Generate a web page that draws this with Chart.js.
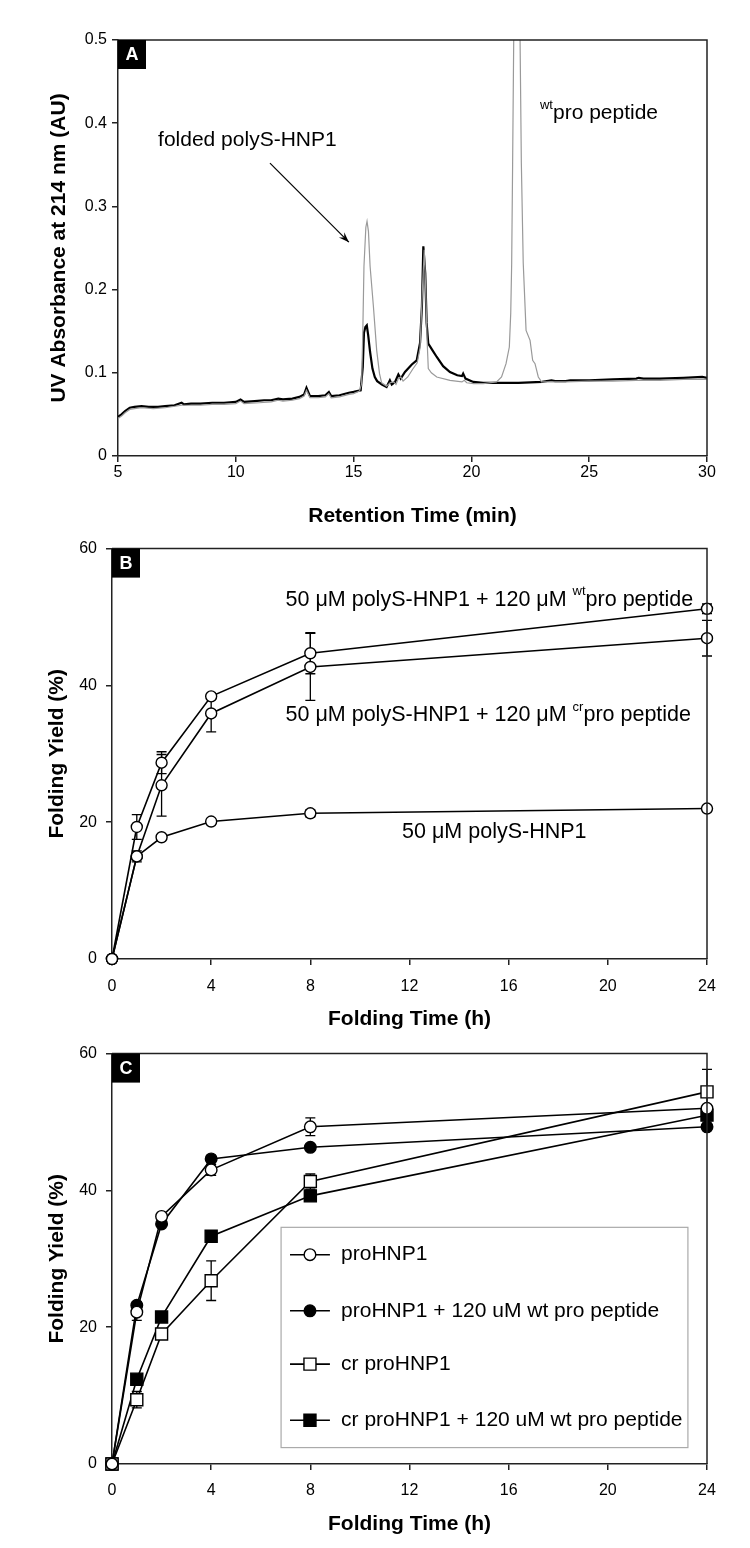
<!DOCTYPE html>
<html><head><meta charset="utf-8">
<script src="https://cdn.jsdelivr.net/npm/chart.js@4.4.1/dist/chart.umd.min.js"></script>
<style>
html,body{margin:0;padding:0;background:#fff;}
body{width:750px;height:1548px;position:relative;overflow:hidden;}
.panel{position:absolute;left:0;width:750px;}
#pa{top:0;height:530px}
#pb{top:530px;height:505px}
#pc{top:1035px;height:513px}
</style></head><body>
<div class="panel" id="pa"><canvas id="ca"></canvas></div>
<div class="panel" id="pb"><canvas id="cb"></canvas></div>
<div class="panel" id="pc"><canvas id="cc"></canvas></div>
<script>
// ---------- Panel A: chromatograms ----------
const timeBlackA = [5.0,5.15,5.3,5.5,5.7,6.0,6.3,6.7,7.0,7.4,7.7,7.8,8.1,8.5,9.0,9.5,10.0,10.2,10.35,10.8,11.2,11.5,11.8,12.0,12.4,12.7,12.9,13.0,13.15,13.5,13.8,13.95,14.05,14.4,14.8,15.0,15.3,15.39,15.44,15.5,15.56,15.62,15.7,15.8,15.9,16.0,16.2,16.4,16.54,16.62,16.76,16.9,17.0,17.18,17.47,17.68,17.82,17.9,17.96,18.04,18.1,18.17,18.35,18.53,18.8,19.09,19.4,19.6,19.65,19.75,20.08,20.5,21.0,22.0,23.0,23.4,23.55,24.0,24.2,25.0,26.0,27.0,27.1,27.3,28.0,29.0,29.8,30.0];
const absBlackA  = [0.047,0.050,0.054,0.058,0.059,0.060,0.059,0.059,0.060,0.061,0.064,0.062,0.063,0.063,0.064,0.064,0.065,0.068,0.065,0.066,0.067,0.067,0.069,0.068,0.069,0.071,0.074,0.082,0.072,0.072,0.073,0.077,0.072,0.073,0.076,0.077,0.079,0.107,0.148,0.155,0.157,0.145,0.125,0.105,0.095,0.090,0.086,0.083,0.091,0.086,0.089,0.098,0.093,0.101,0.110,0.115,0.136,0.180,0.252,0.220,0.160,0.135,0.127,0.119,0.108,0.101,0.097,0.096,0.099,0.093,0.089,0.088,0.088,0.088,0.089,0.091,0.090,0.090,0.091,0.091,0.092,0.093,0.094,0.093,0.093,0.094,0.095,0.094];
const timeGrayA = [5.0,5.15,5.3,5.5,5.7,6.0,6.5,7.0,7.7,8.1,8.5,9.0,9.5,10.0,10.2,10.35,11.0,11.5,11.8,12.0,12.4,12.7,12.9,13.0,13.15,13.5,13.8,13.95,14.05,14.4,14.8,15.0,15.25,15.34,15.39,15.44,15.52,15.57,15.63,15.7,15.84,15.98,16.1,16.19,16.4,16.55,16.7,16.8,16.9,17.0,17.1,17.3,17.5,17.7,17.82,17.92,18.0,18.06,18.12,18.17,18.3,18.53,19.09,19.6,19.7,19.8,20.1,20.5,21.07,21.28,21.47,21.61,21.67,21.71,21.75,21.92,22.12,22.2,22.32,22.49,22.6,22.7,22.84,22.98,23.4,24.0,25.0,26.0,27.0,28.0,29.0,30.0];
const absGrayA  = [0.045,0.048,0.052,0.056,0.057,0.058,0.057,0.058,0.061,0.061,0.061,0.062,0.062,0.063,0.066,0.063,0.064,0.065,0.067,0.066,0.067,0.069,0.072,0.079,0.070,0.070,0.071,0.075,0.070,0.071,0.074,0.075,0.078,0.087,0.148,0.228,0.275,0.282,0.270,0.228,0.180,0.127,0.099,0.088,0.084,0.088,0.089,0.086,0.093,0.095,0.090,0.095,0.104,0.112,0.130,0.200,0.248,0.200,0.139,0.105,0.100,0.095,0.091,0.089,0.091,0.088,0.087,0.087,0.089,0.095,0.111,0.131,0.172,0.232,0.352,0.900,0.352,0.232,0.151,0.139,0.115,0.111,0.095,0.089,0.089,0.089,0.090,0.090,0.091,0.091,0.092,0.092];

// ---------- Panel B: folding yield ----------
const timeB = [0,1,2,4,8,24];
const yieldWtB   = [0,19.3,28.7,38.4,44.7,51.2];
const errWtB     = [0,1.8,1.6,0.4,3.0,0.7];
const yieldCrB   = [0,15.0,25.4,35.9,42.7,46.9];
const errCrB     = [0,0.8,4.5,2.7,4.9,2.6];
const yieldPolyB = [0,15.0,17.8,20.1,21.3,22.0];
const errPolyB   = [0,0.4,0.3,0.3,0.5,0.3];

// ---------- Panel C: folding yield ----------
const timeC = [0,1,2,4,8,24];
const yieldProC   = [0,22.2,36.2,43.0,49.3,52.0];
const errProC     = [0,1.2,0.4,0.8,1.3,0.5];
const yieldProWtC = [0,23.2,35.1,44.6,46.3,49.3];
const errProWtC   = [0,0.5,0.3,0.3,0.4,0.3];
const yieldCrC    = [0,9.4,19.0,26.8,41.3,54.4];
const errCrC      = [0,1.2,0.5,2.9,1.1,3.3];
const yieldCrWtC  = [0,12.4,21.5,33.3,39.2,51.0];
const errCrWtC    = [0,0.5,0.5,0.4,0.5,0.8];
const legendC = ['proHNP1','proHNP1 + 120 uM wt pro peptide','cr proHNP1','cr proHNP1 + 120 uM wt pro peptide'];

const FONT = '"Liberation Sans", Arial, Helvetica, sans-serif';
Chart.defaults.font.family = FONT;
Chart.defaults.color = '#000';

const pts = (xs, ys) => xs.map((x, i) => ({x, y: ys[i]}));

function frameLabel(letter) {
  return {
    id: 'frame' + letter,
    afterDraw(chart) {
      const {ctx, chartArea: a} = chart;
      ctx.save();
      ctx.strokeStyle = '#222'; ctx.lineWidth = 1.5;
      ctx.beginPath(); ctx.moveTo(a.left, a.top); ctx.lineTo(a.right, a.top); ctx.lineTo(a.right, a.bottom); ctx.stroke();
      ctx.fillStyle = '#000'; ctx.fillRect(a.left, a.top, 28, 29);
      ctx.fillStyle = '#fff'; ctx.font = 'bold 18px ' + FONT;
      ctx.textAlign = 'center'; ctx.textBaseline = 'middle';
      ctx.fillText(letter, a.left + 14, a.top + 15);
      ctx.restore();
    }
  };
}

const errorBars = {
  id: 'errorBars',
  beforeDatasetsDraw(chart) {
    const {ctx} = chart;
    const ys = chart.scales.y;
    ctx.save();
    ctx.strokeStyle = '#000'; ctx.lineWidth = 1.3;
    chart.data.datasets.forEach((ds, i) => {
      if (!ds.errors) return;
      const meta = chart.getDatasetMeta(i);
      meta.data.forEach((p, j) => {
        const e = ds.errors[j]; if (!e) return;
        const v = ds.data[j].y;
        const y1 = ys.getPixelForValue(v + e), y2 = ys.getPixelForValue(v - e);
        ctx.beginPath();
        ctx.moveTo(p.x, y1); ctx.lineTo(p.x, y2);
        ctx.moveTo(p.x - 5, y1); ctx.lineTo(p.x + 5, y1);
        ctx.moveTo(p.x - 5, y2); ctx.lineTo(p.x + 5, y2);
        ctx.stroke();
      });
    });
    ctx.restore();
  }
};

function drawParts(ctx, x, y, parts, size) {
  let cx = x;
  parts.forEach(p => {
    if (p.sup) {
      ctx.font = Math.round(size * 0.6) + 'px ' + FONT;
      ctx.fillText(p.t, cx, y - size * 0.38);
    } else {
      ctx.font = size + 'px ' + FONT;
      ctx.fillText(p.t, cx, y);
    }
    cx += ctx.measureText(p.t).width;
  });
}

function axes(o) {
  return {
    x: {
      type: 'linear', min: o.xmin, max: o.xmax,
      ticks: {stepSize: o.xstep, font: {size: 16}, padding: o.xpad, color: '#000'},
      grid: {display: true, drawOnChartArea: false, drawTicks: true, tickLength: 6, color: '#222', lineWidth: 1.5},
      border: {display: true, color: '#222', width: 1.5},
      title: {display: true, text: o.xtitle, font: {size: 21, weight: 'bold'}, color: '#000', padding: {top: 0, bottom: o.xtpad}},
      afterFit: s => { s.height = o.xh; }
    },
    y: {
      type: 'linear', min: o.ymin, max: o.ymax,
      ticks: {stepSize: o.ystep, font: {size: 16}, padding: o.ypad, color: '#000'},
      grid: {display: true, drawOnChartArea: false, drawTicks: true, tickLength: 6, color: '#222', lineWidth: 1.5},
      border: {display: true, color: '#222', width: 1.5},
      title: {display: true, text: o.ytitle, font: {size: 21, weight: 'bold'}, color: '#000', padding: {top: o.ytpad, bottom: 0}},
      afterFit: s => { s.width = o.yw; }
    }
  };
}

const baseOpts = {
  responsive: true, maintainAspectRatio: false, animation: false, devicePixelRatio: 1,
  plugins: {legend: {display: false}, tooltip: {enabled: false}},
  elements: {line: {tension: 0}}
};

// ---------- Chart A ----------
const annotA = {
  id: 'annotA',
  afterDraw(chart) {
    const {ctx, scales: {x, y}} = chart;
    ctx.save();
    ctx.fillStyle = '#000'; ctx.textBaseline = 'middle'; ctx.textAlign = 'left';
    ctx.font = '21px ' + FONT;
    ctx.fillText('folded polyS-HNP1', x.getPixelForValue(6.7), y.getPixelForValue(0.38));
    drawParts(ctx, x.getPixelForValue(22.91), y.getPixelForValue(0.412), [{t: 'wt', sup: true}, {t: 'pro peptide'}], 21);
    const x1 = x.getPixelForValue(11.45), y1 = y.getPixelForValue(0.352);
    const x2 = x.getPixelForValue(14.8), y2 = y.getPixelForValue(0.257);
    ctx.strokeStyle = '#000'; ctx.lineWidth = 1.2;
    ctx.beginPath(); ctx.moveTo(x1, y1); ctx.lineTo(x2, y2); ctx.stroke();
    const ang = Math.atan2(y2 - y1, x2 - x1), L = 11;
    ctx.beginPath();
    ctx.moveTo(x2, y2);
    ctx.lineTo(x2 - L * Math.cos(ang - 0.35), y2 - L * Math.sin(ang - 0.35));
    ctx.lineTo(x2 - L * 0.6 * Math.cos(ang), y2 - L * 0.6 * Math.sin(ang));
    ctx.lineTo(x2 - L * Math.cos(ang + 0.35), y2 - L * Math.sin(ang + 0.35));
    ctx.closePath(); ctx.fill();
    ctx.restore();
  }
};

new Chart(document.getElementById('ca'), {
  type: 'line',
  data: {datasets: [
    {data: pts(timeGrayA, absGrayA), borderColor: '#9a9a9a', borderWidth: 1.2, pointRadius: 0},
    {data: pts(timeBlackA, absBlackA), borderColor: '#000', borderWidth: 2.2, pointRadius: 0}
  ]},
  options: Object.assign({}, baseOpts, {
    layout: {padding: {top: 40, right: 43, left: 0, bottom: 0}},
    scales: axes({xmin: 5, xmax: 30, xstep: 5, xpad: 1, xtitle: 'Retention Time (min)', xtpad: 1, xh: 74,
                  ymin: 0, ymax: 0.5, ystep: 0.1, ypad: 5, ytitle: 'UV Absorbance at 214 nm (AU)', ytpad: 47, yw: 118})
  }),
  plugins: [annotA, frameLabel('A')]
});

// ---------- Chart B ----------
const annotB = {
  id: 'annotB',
  afterDraw(chart) {
    const {ctx, scales: {x, y}} = chart;
    ctx.save();
    ctx.fillStyle = '#000'; ctx.textBaseline = 'middle'; ctx.textAlign = 'left';
    drawParts(ctx, x.getPixelForValue(7.0), y.getPixelForValue(52.5), [{t: '50 \u03bcM polyS-HNP1 + 120 \u03bcM '}, {t: 'wt', sup: true}, {t: 'pro peptide'}], 21.5);
    drawParts(ctx, x.getPixelForValue(7.0), y.getPixelForValue(35.6), [{t: '50 \u03bcM polyS-HNP1 + 120 \u03bcM '}, {t: 'cr', sup: true}, {t: 'pro peptide'}], 21.5);
    drawParts(ctx, x.getPixelForValue(11.7), y.getPixelForValue(18.6), [{t: '50 \u03bcM polyS-HNP1'}], 21.5);
    ctx.restore();
  }
};
const openCircle = {borderColor: '#000', borderWidth: 1.6, pointStyle: 'circle', pointRadius: 5.5, pointBackgroundColor: '#fff', pointBorderColor: '#000', pointBorderWidth: 1.4, clip: false};

new Chart(document.getElementById('cb'), {
  type: 'line',
  data: {datasets: [
    Object.assign({data: pts(timeB, yieldPolyB), errors: errPolyB}, openCircle),
    Object.assign({data: pts(timeB, yieldCrB), errors: errCrB}, openCircle),
    Object.assign({data: pts(timeB, yieldWtB), errors: errWtB}, openCircle)
  ]},
  options: Object.assign({}, baseOpts, {
    layout: {padding: {top: 13, right: 43, left: 0, bottom: 0}},
    scales: axes({xmin: 0, xmax: 24, xstep: 4, xpad: 12, xtitle: 'Folding Time (h)', xtpad: 3, xh: 76,
                  ymin: 0, ymax: 60, ystep: 20, ypad: 9, ytitle: 'Folding Yield (%)', ytpad: 45, yw: 112})
  }),
  plugins: [errorBars, annotB, frameLabel('B')]
});

// ---------- Chart C ----------
const styleC = [
  {pointStyle: 'circle', pointRadius: 5.8, fill: '#fff'},
  {pointStyle: 'circle', pointRadius: 5.8, fill: '#000'},
  {pointStyle: 'rect', pointRadius: 8.5, fill: '#fff'},
  {pointStyle: 'rect', pointRadius: 8.5, fill: '#000'}
];
const legendBoxC = {
  id: 'legendBoxC',
  afterDraw(chart) {
    const {ctx, scales: {x, y}} = chart;
    const l = x.getPixelForValue(6.82), r = x.getPixelForValue(23.23);
    const t = y.getPixelForValue(34.6), b = y.getPixelForValue(2.4);
    ctx.save();
    ctx.fillStyle = '#fff'; ctx.fillRect(l, t, r - l, b - t);
    ctx.strokeStyle = '#aaa'; ctx.lineWidth = 1.2; ctx.strokeRect(l, t, r - l, b - t);
    const rows = [30.6, 22.4, 14.6, 6.4];
    const lx1 = x.getPixelForValue(7.18), lx2 = x.getPixelForValue(8.79), tx = x.getPixelForValue(9.24);
    legendC.forEach((label, i) => {
      const yy = y.getPixelForValue(rows[i]);
      const cx = (lx1 + lx2) / 2;
      ctx.strokeStyle = '#000'; ctx.lineWidth = 1.6;
      ctx.beginPath(); ctx.moveTo(lx1, yy); ctx.lineTo(lx2, yy); ctx.stroke();
      const s = styleC[i];
      ctx.fillStyle = s.fill; ctx.lineWidth = 1.4; ctx.strokeStyle = '#000';
      ctx.beginPath();
      if (s.pointStyle === 'circle') { ctx.arc(cx, yy, s.pointRadius, 0, Math.PI * 2); }
      else { const h = s.pointRadius * Math.SQRT1_2; ctx.rect(cx - h, yy - h, 2 * h, 2 * h); }
      ctx.fill(); ctx.stroke();
      ctx.fillStyle = '#000'; ctx.font = '21px ' + FONT; ctx.textAlign = 'left'; ctx.textBaseline = 'middle';
      ctx.fillText(label, tx, yy);
    });
    ctx.restore();
  }
};
const dsC = [[yieldProC, errProC], [yieldProWtC, errProWtC], [yieldCrC, errCrC], [yieldCrWtC, errCrWtC]].map((d, i) => ({
  data: pts(timeC, d[0]), errors: d[1], borderColor: '#000', borderWidth: 1.6, clip: false,
  pointStyle: styleC[i].pointStyle, pointRadius: styleC[i].pointRadius,
  pointBackgroundColor: styleC[i].fill, pointBorderColor: '#000', pointBorderWidth: 1.4
}));

new Chart(document.getElementById('cc'), {
  type: 'line',
  data: {datasets: dsC},
  options: Object.assign({}, baseOpts, {
    layout: {padding: {top: 9, right: 43, left: 0, bottom: 0}},
    scales: axes({xmin: 0, xmax: 24, xstep: 4, xpad: 11, xtitle: 'Folding Time (h)', xtpad: 11, xh: 84,
                  ymin: 0, ymax: 60, ystep: 20, ypad: 9, ytitle: 'Folding Yield (%)', ytpad: 45, yw: 112})
  }),
  plugins: [errorBars, legendBoxC, frameLabel('C')]
});
</script>
</body></html>
